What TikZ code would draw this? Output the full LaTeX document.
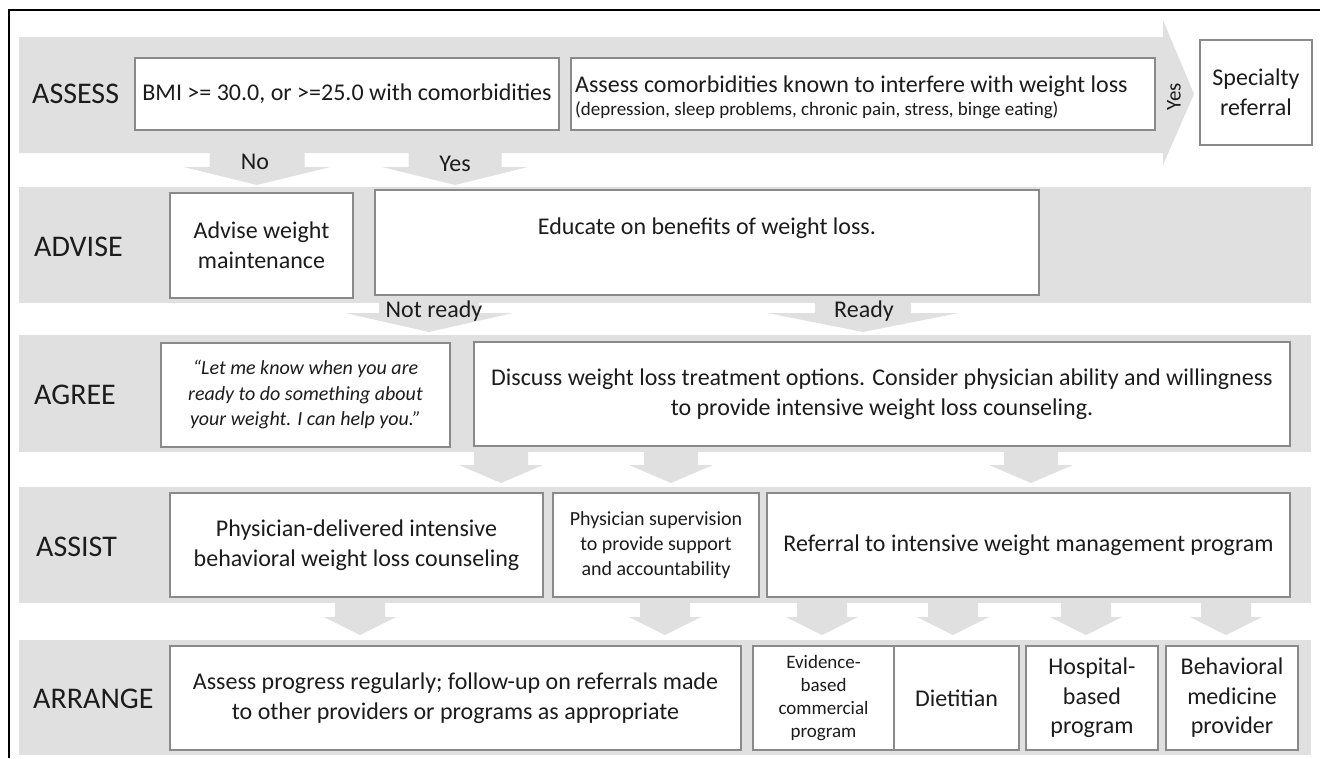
\documentclass[tikz,border=0pt]{standalone}
\usepackage{fontspec}
\setmainfont{Carlito}
\definecolor{band}{HTML}{E0E0E0}
\definecolor{edge}{HTML}{8A8A8A}
\definecolor{ink}{HTML}{1C1C1C}
% downward block arrow: centre x, top, neck, tip, half shaft width, half head width
\newcommand{\blockdown}[6]{%
  \fill[band] (#1-#5,#2) -- (#1+#5,#2) -- (#1+#5,#3) -- (#1+#6,#3)
    -- (#1,#4) -- (#1-#6,#3) -- (#1-#5,#3) -- cycle;}
\begin{document}
\begin{tikzpicture}[x=1pt,y=-1pt,
  box/.style={draw=edge, fill=white, line width=1.3pt, inner sep=0pt,
    align=center, text=ink, font=\fontsize{24}{29.5}\selectfont},
  small/.style={font=\fontsize{20}{25}\selectfont},
  tiny/.style={font=\fontsize{19}{23}\selectfont},
  stage/.style={anchor=west, inner sep=0pt, text=ink,
    font=\fontsize{30}{36}\selectfont},
  flowlabel/.style={inner sep=0pt, text=ink,
    font=\fontsize{24}{29}\selectfont}]
\useasboundingbox (0,0) rectangle (1320,758);

% frame
\draw[line width=2pt] (9,758) -- (9,10) -- (1320,10);

% stage bands
\fill[band] (19,37) -- (1163,37) -- (1163,20) -- (1194,94) -- (1163,165)
  -- (1163,153) -- (19,153) -- cycle;
\fill[band] (19,187) rectangle (1311,303);
\fill[band] (19,335) rectangle (1311,452);
\fill[band] (19,487) rectangle (1311,603);
\fill[band] (19,640) rectangle (1311,755);

% flow arrows between stages
\blockdown{257}{153}{167}{185}{47.5}{73.5}
\blockdown{455}{153}{167}{185}{46.5}{73}
\blockdown{429}{303}{313}{332}{50}{84}
\blockdown{863}{303}{313}{332}{48}{96}
\blockdown{501}{452}{465}{483}{27}{42}
\blockdown{671}{452}{465}{483}{27}{42}
\blockdown{1031}{452}{465}{483}{27}{42}
\blockdown{360}{603}{617}{635}{25}{36}
\blockdown{665}{603}{617}{635}{25}{36}
\blockdown{822}{603}{617}{635}{25}{36}
\blockdown{953}{603}{617}{635}{25}{36}
\blockdown{1086}{603}{617}{635}{25}{36}
\blockdown{1226}{603}{617}{635}{25}{36}

\node[flowlabel] (lno) at (255,162) {No};
\node[flowlabel] (lyes) at (455,164) {Yes};
\node[flowlabel] (lnotready) at (434,311) {Not ready};
\node[flowlabel] (lready) at (864,311) {Ready};
\node[flowlabel, rotate=90, font=\fontsize{21}{25}\selectfont] (lyes2) at (1174,97) {Yes};

% stage names
\node[stage] (sassess) at (32,94) {ASSESS};
\node[stage] (sadvise) at (34,247) {ADVISE};
\node[stage] (sagree) at (34,395) {AGREE};
\node[stage] (sassist) at (36,547) {ASSIST};
\node[stage] (sarrange) at (33,699) {ARRANGE};

% ASSESS
\node[box, minimum width=424pt, minimum height=72pt] (bmi) at (347,94)
  {BMI >= 30.0, or >=25.0 with comorbidities};
\node[box, minimum width=584pt, minimum height=72pt] (comor) at (863,94) {};
\node[anchor=base west, inner sep=0pt, text=ink, font=\fontsize{24}{29}\selectfont]
  (comor1) at (575,92) {Assess comorbidities known to interfere with weight loss};
\node[anchor=base west, inner sep=0pt, text=ink, font=\fontsize{19}{23}\selectfont]
  (comor2) at (575,115) {(depression, sleep problems, chronic pain, stress, binge eating)};
\node[box, minimum width=112pt, minimum height=105pt] (spec) at (1256,92.5)
  {Specialty\\referral};

% ADVISE
\node[box, minimum width=183pt, minimum height=105pt] (maint) at (261.5,245.5)
  {Advise weight\\maintenance};
\node[box, minimum width=664pt, minimum height=105pt] (educ) at (707,242.5) {};
\node[flowlabel] (eductext) at (707,228) {Educate on benefits of weight loss.};

% AGREE
\node[box, minimum width=289pt, minimum height=104pt,
  font=\fontsize{20}{25.5}\selectfont\itshape] (quote) at (305.5,395)
  {“Let me know when you are\\ready to do something about\\your weight. I can help you.”};
\node[box, minimum width=816pt, minimum height=104pt] (discuss) at (882,394)
  {Discuss weight loss treatment options. Consider physician ability and willingness\\
   to provide intensive weight loss counseling.};

% ASSIST
\node[box, minimum width=373pt, minimum height=104pt] (pdel) at (356.5,545)
  {Physician-delivered intensive\\behavioral weight loss counseling};
\node[box, small, minimum width=206pt, minimum height=104pt] (psup) at (656,545)
  {Physician supervision\\to provide support\\and accountability};
\node[box, minimum width=523pt, minimum height=104pt] (refer) at (1028.5,545)
  {Referral to intensive weight management program};

% ARRANGE
\node[box, minimum width=571pt, minimum height=104pt] (prog) at (455.5,698)
  {Assess progress regularly; follow-up on referrals made\\
   to other providers or programs as appropriate};
\node[box, tiny, minimum width=141pt, minimum height=104pt] (evid) at (823.5,698)
  {Evidence-\\based\\commercial\\program};
\node[box, minimum width=125pt, minimum height=104pt] (diet) at (956.5,698)
  {Dietitian};
\node[box, minimum width=132pt, minimum height=104pt] (hosp) at (1092,698)
  {Hospital-\\based\\program};
\node[box, minimum width=132pt, minimum height=104pt] (behav) at (1232,698)
  {Behavioral\\medicine\\provider};
\end{tikzpicture}
\end{document}
